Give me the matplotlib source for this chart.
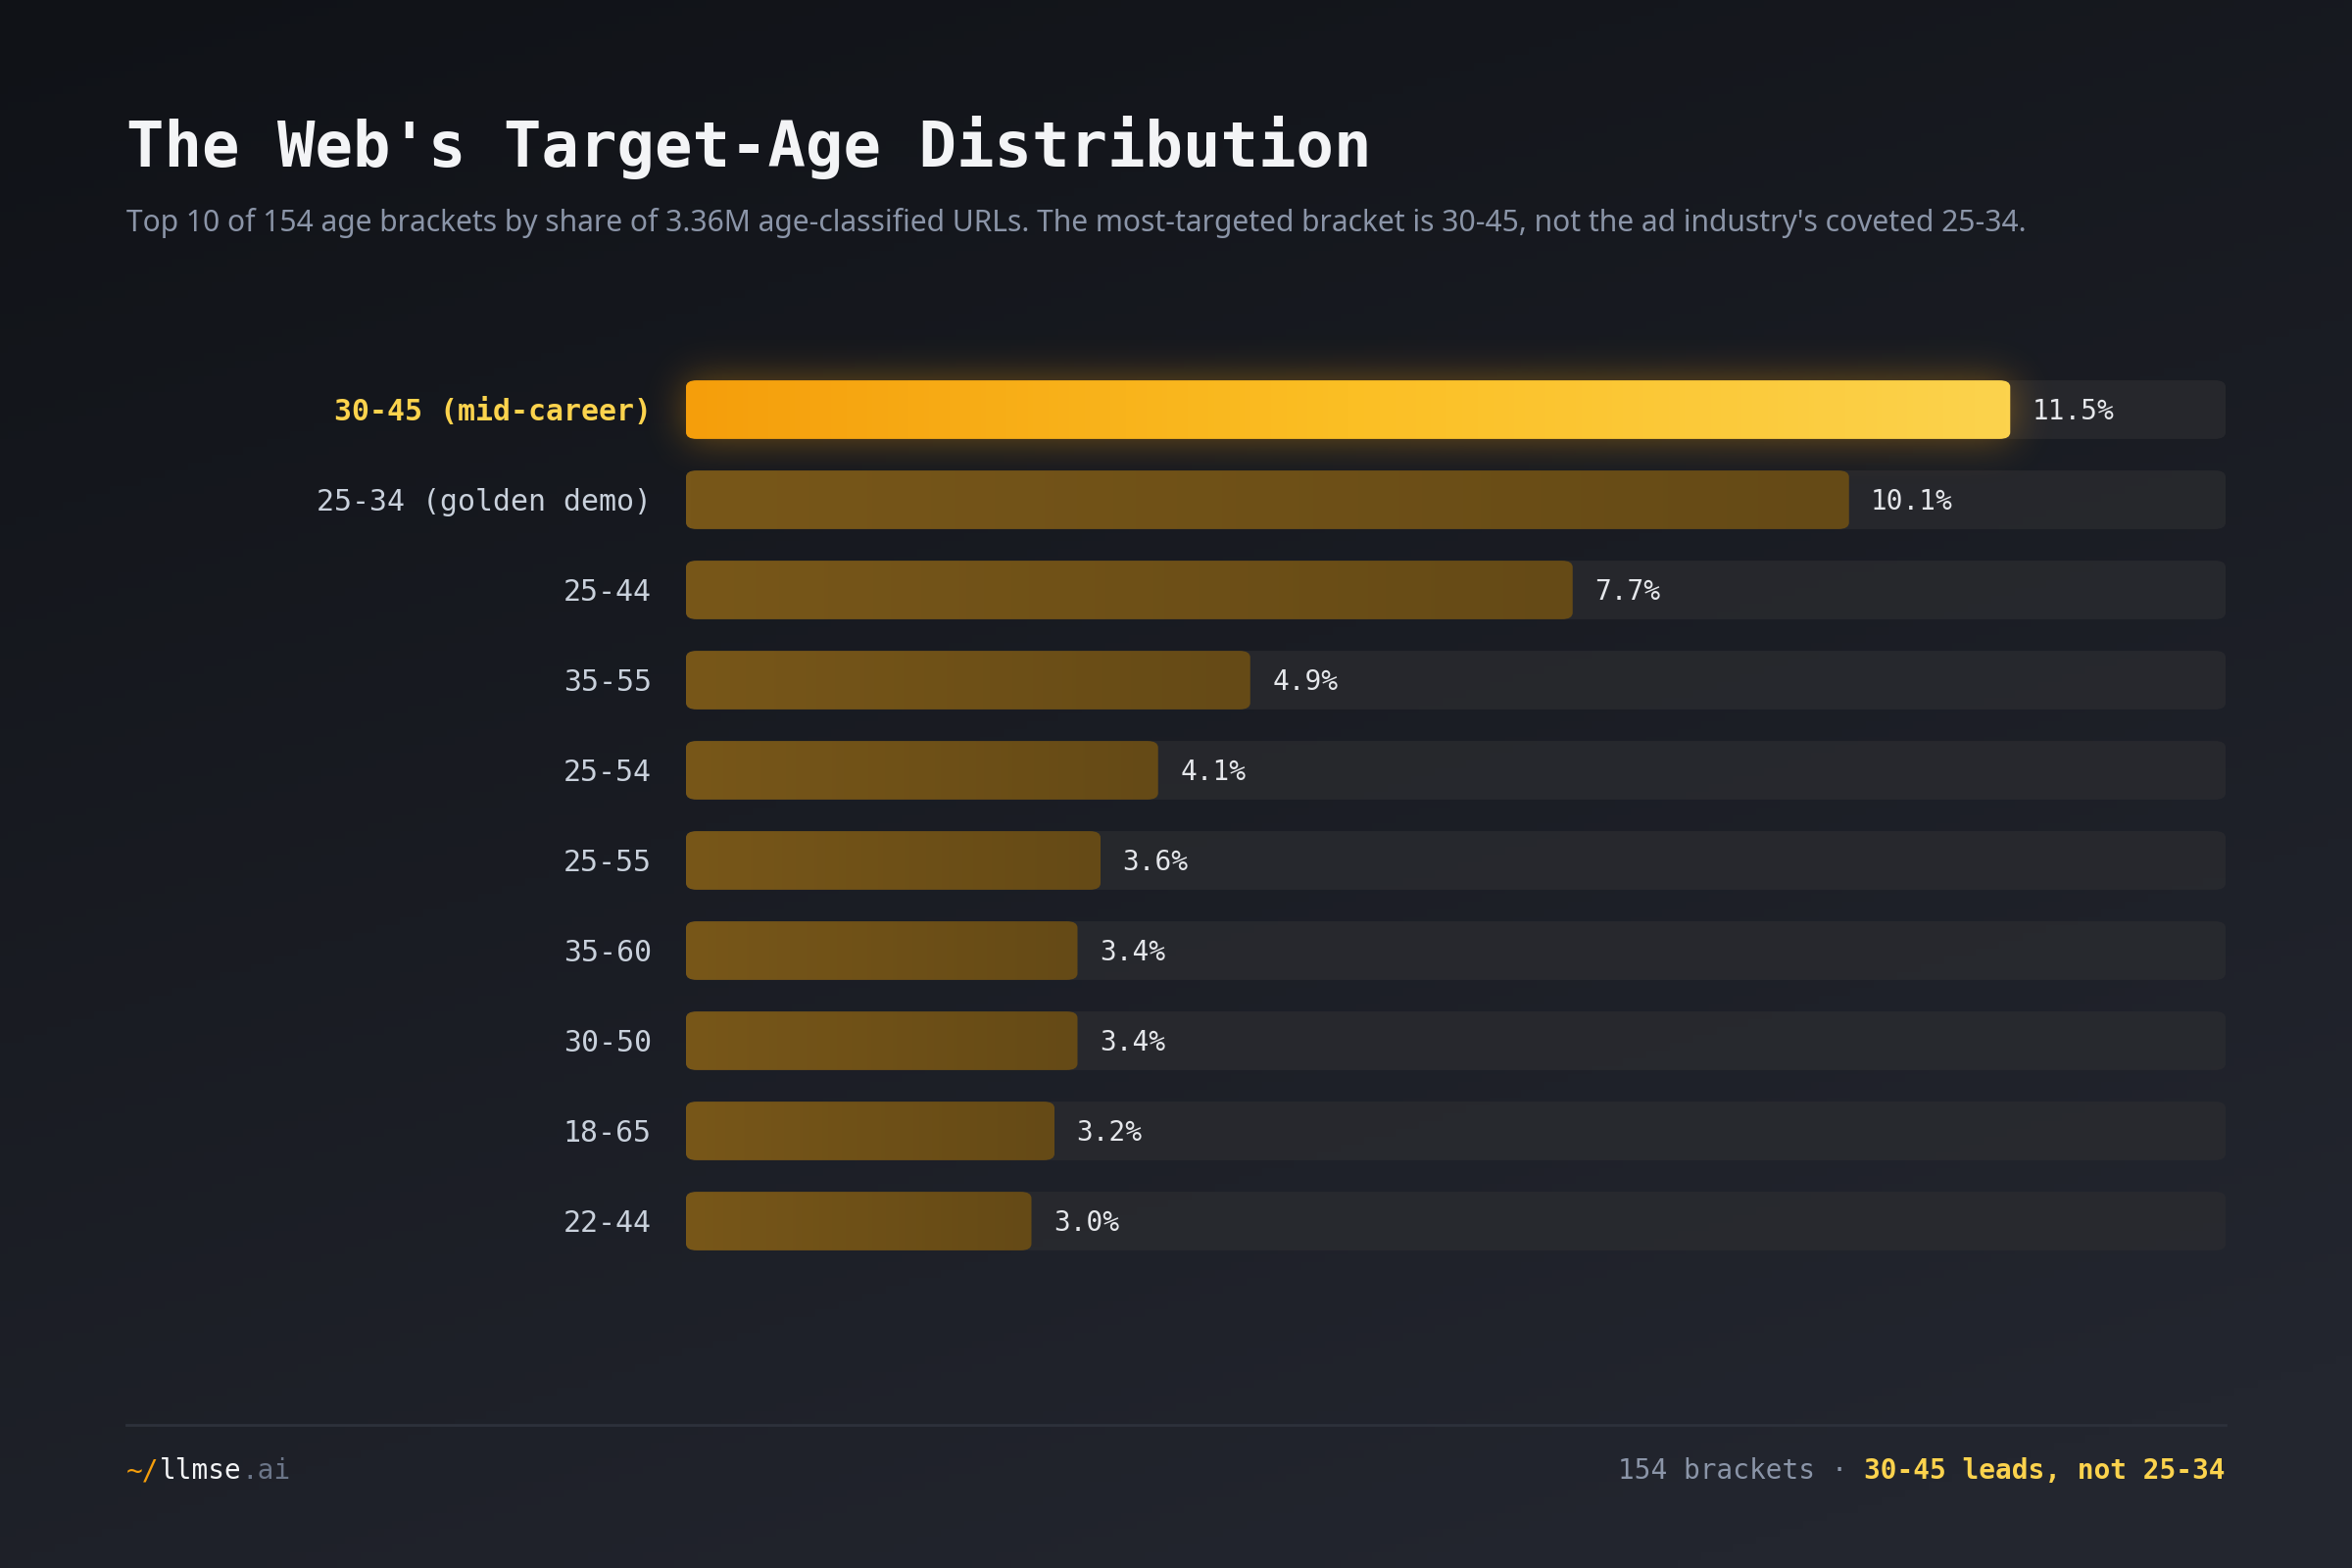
import numpy as np
import matplotlib
matplotlib.use("Agg")
import matplotlib.pyplot as plt
from matplotlib.patches import FancyBboxPatch
from matplotlib.colors import LinearSegmentedColormap, to_rgb

# data
brackets = ["30-45 (mid-career)", "25-34 (golden demo)", "25-44", "35-55", "25-54",
            "25-55", "35-60", "30-50", "18-65", "22-44"]
shares = [11.5, 10.1, 7.7, 4.9, 4.1, 3.6, 3.4, 3.4, 3.2, 3.0]
track_max = 13.37

title = "The Web's Target-Age Distribution"
subtitle = ("Top 10 of 154 age brackets by share of 3.36M age-classified URLs. "
            "The most-targeted bracket is 30-45, not the ad industry's coveted 25-34.")

MONO = ["DejaVu Sans Mono"]
SANS = ["Noto Sans", "DejaVu Sans"]

W, H = 2400, 1600
fig = plt.figure(figsize=(24, 16), dpi=100)

# background gradient
bg = fig.add_axes([0, 0, 1, 1], zorder=-10)
yy, xx = np.mgrid[0:1:200j, 0:1:300j]
t = np.clip(0.75 * yy + 0.35 * xx, 0, 1)
c0 = np.array([0x10, 0x12, 0x17]) / 255
c1 = np.array([0x23, 0x26, 0x2f]) / 255
img = c0[None, None, :] * (1 - t[..., None]) + c1[None, None, :] * t[..., None]
bg.imshow(img, aspect="auto", extent=[0, 1, 0, 1], origin="upper")
bg.axis("off")

# bars axes
left_px, right_px = 700, 2271
top_px, bot_px = 372, 1292
ax = fig.add_axes([left_px / W, 1 - bot_px / H, (right_px - left_px) / W, (bot_px - top_px) / H])
ax.axis("off")
ax.patch.set_alpha(0)

px_x = (right_px - left_px) / track_max
px_y = (bot_px - top_px) / len(brackets)
aspect = px_x / px_y
r = 11 / px_x
bh = 0.65

top_cmap = LinearSegmentedColormap.from_list("top", ["#f59e0b", "#fbbf24", "#fcd34d"])
dim_cmap = LinearSegmentedColormap.from_list("dim", ["#785719", "#654a16"])


def blur1d(a, sigma, axis):
    k = np.arange(-3 * sigma, 3 * sigma + 1)
    k = np.exp(-0.5 * (k / sigma) ** 2)
    k /= k.sum()
    return np.apply_along_axis(lambda m: np.convolve(m, k, mode="same"), axis, a)


for i, (lab, v) in enumerate(zip(brackets, shares)):
    track = FancyBboxPatch((0, i - bh / 2), track_max, bh,
                           boxstyle=f"round,pad=0,rounding_size={r}",
                           mutation_aspect=1 / aspect,
                           fc="#2b2c30", ec="none", alpha=0.75, zorder=1)
    ax.add_patch(track)
    if i == 0:
        # soft glow around the leading bar
        m = 80
        bw_px = int(v * px_x)
        bhp = int(bh * px_y)
        mask = np.zeros((bhp + 2 * m, bw_px + 2 * m))
        mask[m:m + bhp, m:m + bw_px] = 1
        mask = blur1d(blur1d(mask, 20, 0), 20, 1)
        glow = np.zeros(mask.shape + (4,))
        glow[..., :3] = to_rgb("#f59e0b")
        glow[..., 3] = 0.42 * mask
        gim = ax.imshow(glow, aspect="auto", interpolation="bilinear",
                        extent=[-m / px_x, v + m / px_x, i + bh / 2 + m / px_y, i - bh / 2 - m / px_y],
                        zorder=2)
        gim.set_clip_on(False)
    bar = FancyBboxPatch((0, i - bh / 2), v, bh,
                         boxstyle=f"round,pad=0,rounding_size={r}",
                         mutation_aspect=1 / aspect,
                         fc="none", ec="none", zorder=3)
    ax.add_patch(bar)
    grad = np.linspace(0, 1, 256)[None, :]
    im = ax.imshow(grad, cmap=top_cmap if i == 0 else dim_cmap, aspect="auto",
                   extent=[0, v, i + bh / 2, i - bh / 2], zorder=3)
    im.set_clip_path(bar)

    ax.text(v + 0.19, i + 0.02, f"{v:.1f}%", va="center", ha="left", fontsize=20,
            family=MONO, color="#e5e7eb", zorder=5)
    ax.text(-0.3, i + 0.03, lab, va="center", ha="right", fontsize=21.5, family=MONO,
            color="#fcd34d" if i == 0 else "#c9d1dc",
            fontweight="bold" if i == 0 else "normal", zorder=5)

ax.set_xlim(0, track_max)
ax.set_ylim(len(brackets) - 0.5, -0.5)

# title + subtitle
fig.text(129 / W, 1 - 170 / H, title, fontsize=46, family=MONO, fontweight="bold",
         color="#f3f4f6", ha="left", va="baseline")
fig.text(129 / W, 1 - 236 / H, subtitle, fontsize=21.6, family=SANS,
         color="#8b95a8", ha="left", va="baseline")

# footer
fig.add_artist(plt.Line2D([129 / W, right_px / W], [1 - 1454 / H, 1 - 1454 / H],
                          color="#2d313b", lw=2))
renderer = fig.canvas.get_renderer()
fy = 1 - 1509 / H

x = 129 / W
for s, col in [("~/", "#f59e0b"), ("llmse", "#f3f4f6"), (".ai", "#6b7588")]:
    tx = fig.text(x, fy, s, fontsize=20, family=MONO, color=col, ha="left", va="baseline")
    bb = tx.get_window_extent(renderer)
    x = bb.x1 / W

x = right_px / W
for s, col, wt in [("30-45 leads, not 25-34", "#fcd34d", "bold"),
                   (" · ", "#8b95a8", "normal"),
                   ("154 brackets", "#8b95a8", "normal")]:
    tx = fig.text(x, fy, s, fontsize=20, family=MONO, color=col, fontweight=wt,
                  ha="right", va="baseline")
    bb = tx.get_window_extent(renderer)
    x = bb.x0 / W

fig.savefig("out.png", dpi=100)
